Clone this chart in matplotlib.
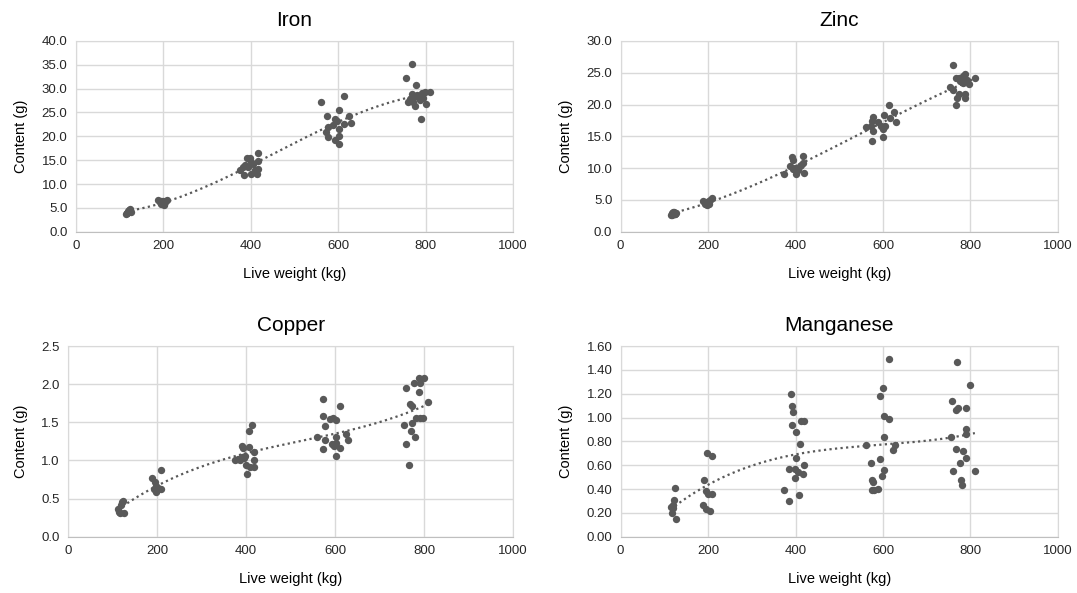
import numpy as np
import matplotlib.pyplot as plt

plt.rcParams['font.family'] = ['Liberation Sans', 'DejaVu Sans']

# Iron
iron_x = [115, 118, 120, 122, 124, 126, 117, 121, 125, 119,
          188, 192, 195, 198, 200, 203, 205, 208, 196, 201,
          376, 385, 391, 398, 402, 395, 406, 414, 410, 418, 418, 418, 387, 400, 382,
          562, 574, 578, 572, 576, 593, 597, 603, 613, 588, 603, 603, 594, 603, 613, 624, 630,
          769, 756, 778, 769, 760, 765, 774, 784, 791, 799, 810, 776, 788, 800, 789, 781, 795, 772]
iron_y = [3.8, 4.0, 4.2, 4.4, 4.6, 4.1, 3.9, 4.5, 4.8, 4.3,
          6.6, 6.3, 5.8, 6.0, 6.5, 5.6, 6.2, 6.7, 6.4, 5.9,
          12.9, 11.8, 15.4, 15.5, 14.7, 13.6, 14.3, 12.0, 12.9, 16.4, 13.1, 14.9, 14.0, 12.2, 13.6,
          27.1, 24.3, 22.0, 21.0, 19.8, 23.6, 23.3, 25.5, 28.5, 22.4, 21.5, 20.1, 19.2, 18.3, 22.5, 24.3, 22.9,
          35.2, 32.2, 30.8, 28.8, 27.3, 27.8, 28.2, 28.3, 29.0, 29.2, 29.2, 26.4, 27.6, 26.8, 23.7, 28.7, 28.0, 27.3]

# Zinc
zinc_x = [115, 118, 120, 122, 124, 126, 117, 121, 125, 119,
          188, 192, 195, 198, 200, 203, 205, 208, 196, 201,
          374, 391, 393, 387, 395, 401, 406, 410, 417, 417, 419, 398, 412,
          561, 572, 576, 574, 576, 574, 589, 595, 599, 599, 602, 604, 613, 615, 625, 629,
          760, 754, 759, 768, 773, 776, 780, 783, 788, 792, 797, 810, 773, 770, 766, 788, 788, 782]
zinc_y = [2.7, 2.9, 3.0, 3.1, 2.8, 2.9, 2.6, 3.0, 2.8, 3.1,
          4.9, 4.3, 4.6, 4.2, 4.7, 4.4, 5.0, 5.3, 4.5, 4.8,
          9.05, 11.7, 11.2, 10.3, 9.8, 9.1, 9.7, 10.3, 10.8, 11.9, 9.2, 10.0, 10.5,
          16.4, 16.6, 18.1, 17.4, 15.8, 14.3, 17.3, 16.6, 16.1, 14.9, 18.3, 16.7, 20.0, 17.9, 18.8, 17.3,
          26.2, 22.8, 22.3, 24.2, 24.1, 23.7, 24.2, 24.5, 24.8, 23.9, 23.2, 24.1, 21.6, 21.1, 19.9, 21.7, 21.1, 23.4]

# Copper
copper_x = [112, 116, 120, 124, 118, 125, 114,
            189, 195, 197, 193, 197, 202, 208, 208, 200,
            375, 386, 390, 390, 392, 395, 397, 399, 401, 406, 406, 413, 408, 417, 418, 417, 382,
            560, 572, 573, 577, 577, 573, 588, 593, 595, 601, 601, 603, 601, 612, 612, 625, 630, 597,
            760, 756, 759, 766, 769, 774, 772, 770, 780, 777, 788, 790, 788, 799, 783, 790, 798, 810]
copper_y = [0.36, 0.31, 0.45, 0.47, 0.42, 0.31, 0.33,
            0.77, 0.72, 0.66, 0.62, 0.59, 0.64, 0.62, 0.87, 0.61,
            1.01, 1.00, 1.05, 1.19, 1.16, 1.03, 1.06, 0.94, 0.82, 1.17, 1.39, 1.46, 0.91, 0.92, 1.01, 1.11, 1.02,
            1.31, 1.58, 1.80, 1.45, 1.27, 1.15, 1.54, 1.21, 1.56, 1.53, 1.31, 1.23, 1.06, 1.71, 1.16, 1.35, 1.27, 1.19,
            1.95, 1.47, 1.22, 0.94, 1.74, 1.71, 1.49, 1.38, 1.31, 2.01, 2.08, 2.02, 1.90, 2.08, 1.55, 1.56, 1.56, 1.76]

# Manganese
mn_x = [124, 123, 119, 114, 117, 126, 120,
        191, 198, 208, 196, 200, 209, 189, 196, 204,
        389, 391, 395, 391, 400, 409, 400, 385, 398, 406, 419, 417, 398, 373, 385, 408, 413, 419,
        560, 572, 574, 576, 574, 580, 589, 593, 593, 600, 602, 613, 602, 602, 598, 613, 623, 628,
        770, 798, 758, 766, 772, 789, 755, 789, 789, 768, 783, 775, 789, 760, 810, 778, 781]
mn_y = [0.41, 0.31, 0.27, 0.25, 0.20, 0.15, 0.24,
        0.48, 0.70, 0.68, 0.38, 0.36, 0.36, 0.27, 0.23, 0.22,
        1.20, 1.10, 1.05, 0.94, 0.88, 0.78, 0.66, 0.57, 0.57, 0.54, 0.60, 0.53, 0.49, 0.39, 0.30, 0.35, 0.97, 0.97,
        0.77, 0.62, 0.48, 0.46, 0.39, 0.39, 0.40, 0.65, 1.18, 1.25, 1.01, 0.99, 0.84, 0.56, 0.51, 1.49, 0.73, 0.77,
        1.47, 1.27, 1.14, 1.06, 1.08, 1.08, 0.84, 0.90, 0.86, 0.74, 0.72, 0.62, 0.66, 0.55, 0.55, 0.48, 0.43]

panels = [
    ('Iron', iron_x, iron_y, 40, 5, '{:.1f}', [0.0703, 0.6093, 0.406, 0.3216]),
    ('Zinc', zinc_x, zinc_y, 30, 5, '{:.1f}', [0.5763, 0.6093, 0.406, 0.3216]),
    ('Copper', copper_x, copper_y, 2.5, 0.5, '{:.1f}', [0.0634, 0.0949, 0.4129, 0.3216]),
    ('Manganese', mn_x, mn_y, 1.6, 0.2, '{:.2f}', [0.5763, 0.0949, 0.406, 0.3216]),
]

cor = '#595959'
grade = '#d9d9d9'

fig = plt.figure(figsize=(10.77, 5.93), dpi=100)

for titulo, xs, ys, ymax, passo, fmt, pos in panels:
    ax = fig.add_axes(pos)
    xs = np.array(xs, dtype=float)
    ys = np.array(ys, dtype=float)
    ax.scatter(xs, ys, s=28, color=cor, zorder=3, linewidths=0)

    # linha de tendencia polinomial
    coef = np.polyfit(xs, ys, 3)
    xt = np.linspace(xs.min(), xs.max(), 200)
    ax.plot(xt, np.polyval(coef, xt), linestyle=(0, (1, 1.5)), color=cor, linewidth=1.6, zorder=2)

    ax.set_xlim(0, 1000)
    ax.set_ylim(0, ymax)
    ax.set_xticks(np.arange(0, 1001, 200))
    yt = np.arange(0, ymax + passo / 2, passo)
    ax.set_yticks(yt)
    ax.set_yticklabels([fmt.format(v) for v in yt])
    ax.grid(True, color=grade, linewidth=1)
    ax.set_axisbelow(True)
    for lado in ['top', 'right', 'left']:
        ax.spines[lado].set_color(grade)
    ax.spines['bottom'].set_color('#bfbfbf')
    ax.tick_params(length=0, labelsize=9.5, colors='#262626', pad=6)
    ax.set_title(titulo, fontsize=15, pad=11)
    ax.set_xlabel('Live weight (kg)', fontsize=10.5, labelpad=11)
    ax.set_ylabel('Content (g)', fontsize=10.5, labelpad=10)

fig.savefig('out.png', dpi=100)
